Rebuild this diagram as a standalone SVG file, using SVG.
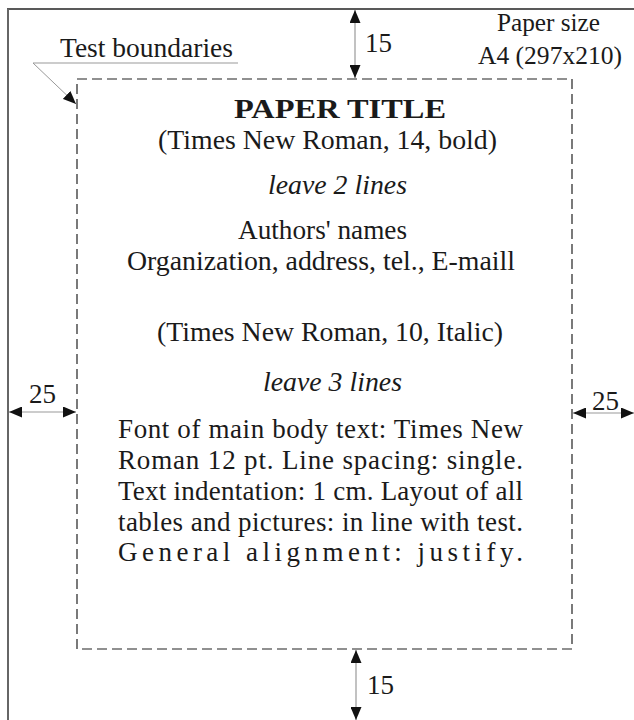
<svg xmlns="http://www.w3.org/2000/svg" width="634" height="720" viewBox="0 0 634 720">
<style>
text{font-family:"Liberation Serif","Times New Roman","DejaVu Serif",serif;fill:#1a1a1a}
.t{font-size:27px}
.s{font-size:25px}
.dim{stroke:#999;stroke-width:1.2;fill:none}
</style>
<defs>
<marker id="ah" viewBox="0 0 13 11" refX="13" refY="5.5" markerWidth="13" markerHeight="11" markerUnits="userSpaceOnUse" orient="auto-start-reverse">
<path d="M0,0 L13,5.5 L0,11 Z" fill="#111"/>
</marker>
</defs>
<rect width="634" height="720" fill="#fff"/>
<g id="page">
<line x1="7" y1="9" x2="634" y2="9" stroke="#222" stroke-width="1.5"/>
<line x1="8" y1="9" x2="8" y2="720" stroke="#666" stroke-width="2"/>
</g>
<g id="boundary">
<rect x="77" y="79" width="495" height="570" fill="none" stroke="#222" stroke-width="1.2" stroke-dasharray="10 5"/>
</g>
<g id="connectors">
<line class="dim" x1="355" y1="10" x2="355" y2="78" marker-start="url(#ah)" marker-end="url(#ah)"/>
<line class="dim" x1="356" y1="650" x2="356" y2="720" marker-start="url(#ah)" marker-end="url(#ah)"/>
<line class="dim" x1="9" y1="412" x2="76" y2="412" marker-start="url(#ah)" marker-end="url(#ah)"/>
<line class="dim" x1="573" y1="413" x2="634" y2="413" marker-start="url(#ah)" marker-end="url(#ah)"/>
<polyline points="238,63 33,63 76,104" fill="none" stroke="#999" stroke-width="1" marker-end="url(#ah)"/>
</g>
<g id="labels">
<text class="t" x="60" y="57" textLength="173" lengthAdjust="spacingAndGlyphs">Test boundaries</text>
<text class="s" x="497" y="31" textLength="103" lengthAdjust="spacingAndGlyphs">Paper size</text>
<text class="s" x="478" y="64" textLength="144" lengthAdjust="spacingAndGlyphs">A4 (297x210)</text>
<text class="t" x="365" y="52">15</text>
<text class="t" x="367" y="694">15</text>
<text class="t" x="29" y="403">25</text>
<text class="t" x="592" y="410">25</text>
</g>
<g id="content">
<text class="t" x="234" y="118" font-weight="bold" font-size="31" textLength="212" lengthAdjust="spacingAndGlyphs">PAPER TITLE</text>
<text class="t" x="158" y="149" textLength="339" lengthAdjust="spacingAndGlyphs">(Times New Roman, 14, bold)</text>
<text class="t" x="268" y="194" font-style="italic" textLength="139" lengthAdjust="spacingAndGlyphs">leave 2 lines</text>
<text class="t" x="238" y="239" textLength="169" lengthAdjust="spacingAndGlyphs">Authors' names</text>
<text class="t" x="127" y="270" textLength="388" lengthAdjust="spacingAndGlyphs">Organization, address, tel., E-maill</text>
<text class="t" x="157" y="341" textLength="346" lengthAdjust="spacingAndGlyphs">(Times New Roman, 10, Italic)</text>
<text class="t" x="263" y="391" font-style="italic" textLength="139" lengthAdjust="spacingAndGlyphs">leave 3 lines</text>
<text class="t" x="118" y="438" textLength="405" lengthAdjust="spacing">Font of main body text: Times New</text>
<text class="t" x="118" y="469" textLength="405" lengthAdjust="spacing">Roman 12 pt. Line spacing: single.</text>
<text class="t" x="118" y="500" textLength="405" lengthAdjust="spacing">Text indentation: 1 cm. Layout of all</text>
<text class="t" x="118" y="531" textLength="405" lengthAdjust="spacing">tables and pictures: in line with test.</text>
<text class="t" x="118" y="561" textLength="405" lengthAdjust="spacing">General alignment: justify.</text>
</g>
</svg>
